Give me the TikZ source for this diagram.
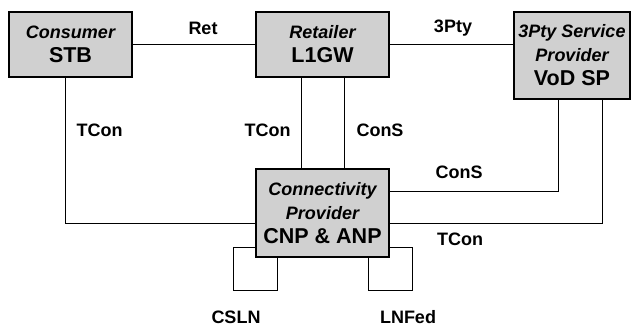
\documentclass[tikz,border=0pt]{standalone}
\usepackage{fontspec}
\setmainfont{Liberation Sans}
\usetikzlibrary{positioning}
\definecolor{boxgray}{RGB}{208,208,208}
\newcommand{\rolename}[1]{{\itshape\fontsize{18}{20}\selectfont #1}}

\begin{document}
\begin{tikzpicture}[x=1pt, y=-1pt,
    node distance=124pt,
    box/.style={draw, line width=1.3pt, fill=boxgray, inner sep=0pt, outer sep=0pt, minimum width=123pt, minimum height=65pt, align=center, font=\bfseries\fontsize{21.5}{24}\selectfont},
    link/.style={line width=1pt},
    lbl/.style={font=\bfseries\fontsize{18}{20}\selectfont, inner sep=0pt}]
\useasboundingbox (0,0) rectangle (637,327);
\node[box] (stb) at (70.5,44.5) {\rolename{Consumer}\\STB};
\node[box, minimum width=133pt, right=of stb] (retail) {\rolename{Retailer}\\L1GW};
\node[box, minimum width=116pt, minimum height=87pt, right=125pt of retail.north east, anchor=north west] (sp) {\rolename{3Pty Service}\\\rolename{Provider}\\VoD SP};
\node[box, minimum width=133pt, minimum height=88pt, below=92pt of retail] (cnp) {\rolename{Connectivity}\\\rolename{Provider}\\CNP \& ANP};
\draw[link] (stb) -- (retail);
\draw[link] (retail.east) -- (retail.east -| sp.west);
\draw[link] ([xshift=-5.5pt]stb.south) |- ([yshift=-10pt]cnp.west);
\draw[link] ([xshift=-21.5pt]retail.south) -- ([xshift=-21.5pt]cnp.north);
\draw[link] ([xshift=21.5pt]retail.south) -- ([xshift=21.5pt]cnp.north);
\draw[link] ([xshift=-14pt]sp.south) |- ([yshift=22pt]cnp.east);
\draw[link] ([xshift=30pt]sp.south) |- ([yshift=-10pt]cnp.east);
\draw[link] ([yshift=-34pt]cnp.west) -- ++(-23,0) |- ([xshift=21pt,yshift=-33pt]cnp.south west) -- ([xshift=21pt]cnp.south west);
\draw[link] ([xshift=-21pt]cnp.south east) -- ([xshift=-21pt,yshift=-33pt]cnp.south east) -| ([xshift=23pt,yshift=-34pt]cnp.east) -- ([yshift=-34pt]cnp.east);
\node[lbl] (ret) at (203,28) {Ret};
\node[lbl] (thirdparty) at (453,28) {3Pty};
\node[lbl] (tconstb) at (99.5,130) {TCon};
\node[lbl] (tconretail) at (267.5,130) {TCon};
\node[lbl] (consretail) at (380,130) {ConS};
\node[lbl] (conssp) at (459,172) {ConS};
\node[lbl] (tconsp) at (460,239) {TCon};
\node[lbl] (csln) at (236,317) {CSLN};
\node[lbl] (lnfed) at (408,317) {LNFed};
\end{tikzpicture}
\end{document}
